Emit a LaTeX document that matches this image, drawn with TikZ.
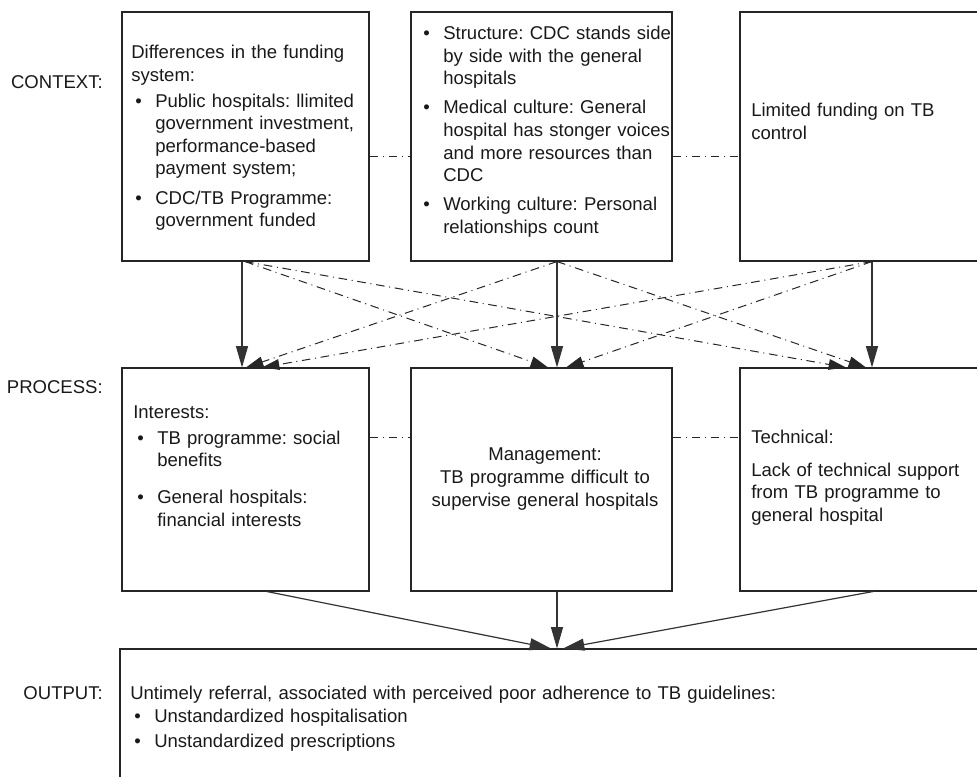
\documentclass[tikz,border=0pt]{standalone}
\usepackage{fontspec}
\setmainfont{Liberation Sans}
\usetikzlibrary{arrows.meta}
\usetikzlibrary{fit}
\setlength{\parindent}{0pt}
\frenchspacing

% bullet line with hanging indent (no new paragraph when the node starts with it)
\newcommand{\bitem}[2][0pt]{%
  \ifnum\numexpr(\lastnodetype+1)*(\lastnodetype-9)\relax=0 \else\par\vspace{#1}\noindent\fi
  \hangindent=18pt\hangafter=1%
  \makebox[18pt][l]{\hspace{3pt}\textbullet}#2\par}

\begin{document}
\begin{tikzpicture}
[x=0.75pt,y=-0.75pt,%
  box/.style={draw=black!85,line width=0.8pt,inner sep=0pt},%
  txt/.style={inner sep=0pt,anchor=north west,align=left,text width=200pt,text=black!90},%
  lbl/.style={inner sep=0pt,anchor=east,text=black!90},%
  flow/.style={draw=black!80,line width=0.9pt,-{Triangle[length=16pt,width=9pt]}},%
  cross/.style={draw=black!85,line width=0.75pt,dash pattern=on 6.5pt off 3.5pt on 0.75pt off 3.5pt,%
    -{Triangle[length=13pt,width=8pt]}},%
  link/.style={draw=black!85,line width=0.75pt,dash pattern=on 6.5pt off 3.5pt on 0.75pt off 3.5pt}]
\fontsize{13.9pt}{16.9pt}\selectfont
\useasboundingbox (0,0) rectangle (977,776);
\clip (0,0) rectangle (977,776);

% boxes
\node[box,fit={(122,12) (369,261)}] (ctx1) {};
\node[box,fit={(411,12) (672,261)}] (ctx2) {};
\node[box,fit={(740,12) (1010,261)}] (ctx3) {};
\node[box,fit={(122,368) (369,591)}] (prc1) {};
\node[box,fit={(411,368) (672,591)}] (prc2) {};
\node[box,fit={(740,368) (1010,591)}] (prc3) {};
\node[box,fit={(120,649) (1010,800)}] (out) {};

% row labels
\node[lbl] (lctx) at (103,82) {CONTEXT:};
\node[lbl] (lprc) at (103,387) {PROCESS:};
\node[lbl] (lout) at (103,693) {OUTPUT:};

% texts
\node[txt] (tctx1) at (131,45) {Differences in the funding\\ system:
  \bitem[2.6pt]{Public hospitals: llimited\newline government investment,\newline performance-based\newline payment system;}
  \bitem[5.2pt]{CDC/TB Programme:\newline government funded}};
\node[txt] (tctx2) at (419,26) {%
  \bitem{Structure: CDC stands side\newline by side with the general\newline hospitals}
  \bitem[5pt]{Medical culture: General\newline hospital has stonger voices\newline and more resources than\newline CDC}
  \bitem[5pt]{Working culture: Personal\newline relationships count}};
\node[txt] (tctx3) at (751,103) {Limited funding on TB\\ control};
\node[txt] (tprc1) at (133,405) {Interests:
  \bitem[2.6pt]{TB programme: social\newline benefits}
  \bitem[11pt]{General hospitals:\newline financial interests}};
\node[txt,anchor=north,align=center] (tprc2) at (545,447) {Management:\\[1pt] TB programme difficult to\\ supervise general hospitals};
\node[txt] (tprc3) at (751,430) {Technical:\\[7.5pt] Lack of technical support\\ from TB programme to\\ general hospital};
\node[txt,text width=520pt] (tout) at (130,686) {Untimely referral, associated with perceived poor adherence to TB guidelines:
  \bitem{Unstandardized hospitalisation}
  \bitem[2pt]{Unstandardized prescriptions}};

% links inside a row
\draw[link] (ctx1.east |- 0,156) -- (ctx2.west |- 0,156);
\draw[link] (ctx2.east |- 0,156) -- (ctx3.west |- 0,156);
\draw[link] (prc1.east |- 0,437) -- (prc2.west |- 0,437);
\draw[link] (prc2.east |- 0,437) -- (prc3.west |- 0,437);

% context -> process
\draw[flow] (242,0 |- ctx1.south) -- (242,0 |- prc1.north);
\draw[flow] (557,0 |- ctx2.south) -- (557,0 |- prc2.north);
\draw[flow] (872,0 |- ctx3.south) -- (872,0 |- prc3.north);
\draw[cross] (245,0 |- ctx1.south) -- (548,0 |- prc2.north);
\draw[cross] (245,0 |- ctx1.south) -- (846,0 |- prc3.north);
\draw[cross] (557,0 |- ctx2.south) -- (246,0 |- prc1.north);
\draw[cross] (557,0 |- ctx2.south) -- (866,0 |- prc3.north);
\draw[cross] (872,0 |- ctx3.south) -- (262,0 |- prc1.north);
\draw[cross] (872,0 |- ctx3.south) -- (566,0 |- prc2.north);

% process -> output
\draw[flow] (267,0 |- prc1.south) -- (551,0 |- out.north);
\draw[flow] (557,0 |- prc2.south) -- (557,0 |- out.north);
\draw[flow] (873,0 |- prc3.south) -- (563,0 |- out.north);
\end{tikzpicture}
\end{document}
